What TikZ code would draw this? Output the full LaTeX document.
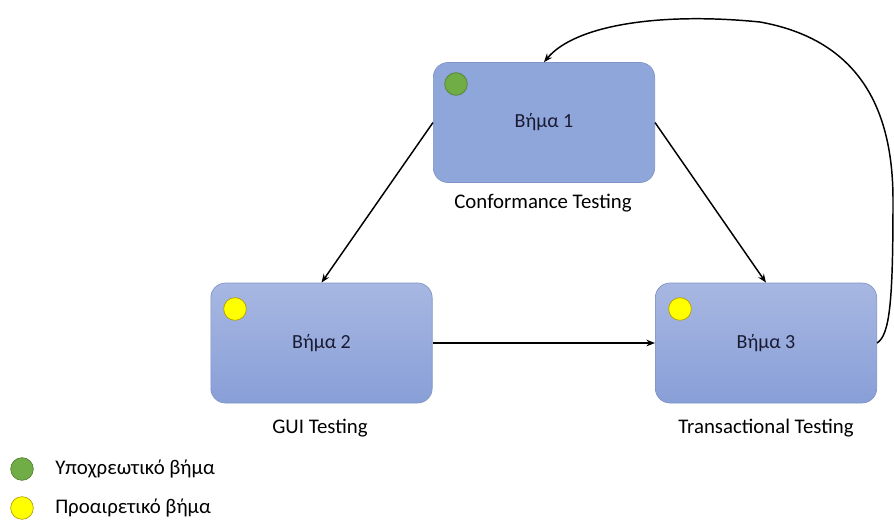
\documentclass[tikz,border=0pt]{standalone}
\usepackage{fontspec}
\setmainfont{Carlito}
\usetikzlibrary{arrows.meta}
\definecolor{boxfill}{HTML}{8FA6DA}
\definecolor{boxtop}{HTML}{A7B7E2}
\definecolor{boxbot}{HTML}{889FD7}
\definecolor{boxline}{HTML}{7F93C4}
\definecolor{greenc}{HTML}{70AD47}
\definecolor{greenl}{HTML}{548235}
\definecolor{yellowc}{HTML}{FFFF00}
\definecolor{yellowl}{HTML}{B4A000}
\definecolor{navy}{HTML}{1A1A33}
\begin{document}
\begin{tikzpicture}[x=0.75pt,y=-0.75pt,
  stepbox/.style={draw=boxline, line width=0.5pt, rounded corners=11pt, minimum width=166pt, minimum height=90pt, font=\fontsize{15}{17}\selectfont, text=navy, inner sep=0pt},
  flatbox/.style={stepbox, fill=boxfill},
  gradbox/.style={stepbox, top color=boxtop, bottom color=boxbot},
  greendot/.style={circle, draw=greenl, fill=greenc, minimum size=17pt, inner sep=0pt, line width=0.5pt},
  yellowdot/.style={circle, draw=yellowl, fill=yellowc, minimum size=17pt, inner sep=0pt, line width=0.5pt},
  lbl/.style={font=\fontsize{15.6}{18}\selectfont, text=black, inner sep=0pt},
  leg/.style={font=\fontsize{15.6}{18}\selectfont, text=black, inner sep=0pt, anchor=west},
  conn/.style={-{Stealth[length=6.5pt,width=5pt]}, line width=1.1pt, black}
]
\useasboundingbox (0,0) rectangle (894,519);
\node[flatbox] (b1) at (544,122.5) {Βήμα 1};
\node[gradbox] (b2) at (321.5,343) {Βήμα 2};
\node[gradbox] (b3) at (766,343) {Βήμα 3};
\node[greendot] (d1) at (456,84) {};
\node[yellowdot] (d2) at (235,309) {};
\node[yellowdot] (d3) at (680,309) {};
\node[lbl] (l1) at (543,203) {Conformance Testing};
\node[lbl] (l2) at (320,428) {GUI Testing};
\node[lbl] (l3) at (766,428) {Transactional Testing};
\node[greendot] (g) at (22,469) {};
\node[yellowdot] (y) at (22,508) {};
\node[leg] (gt) at (55,469) {Υποχρεωτικό βήμα};
\node[leg] (yt) at (55,508) {Προαιρετικό βήμα};
\draw[conn] (b1.west) -- (b2.north);
\draw[conn] (b1.east) -- (b3.north);
\draw[conn] (b2.east) -- (b3.west);
\draw[conn] (b3.east) .. controls (890,335) and (893,300) .. (893,200)
  .. controls (893,110) and (860,40) .. (760,22)
  .. controls (660,12) and (575,25) .. (b1.north);
\end{tikzpicture}
\end{document}
